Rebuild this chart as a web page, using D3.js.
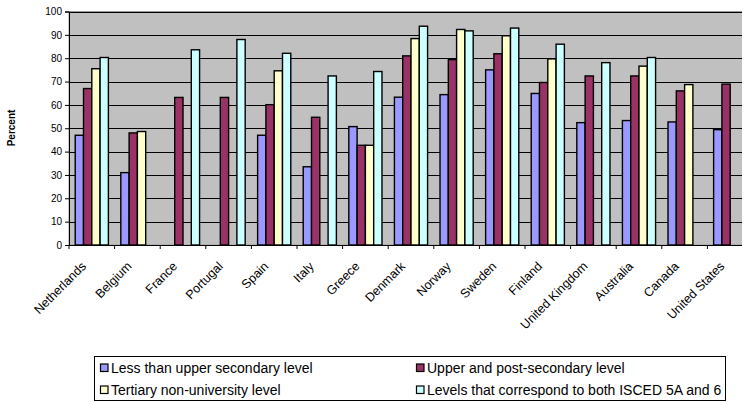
<!DOCTYPE html>
<html>
<head>
<meta charset="utf-8">
<script src="https://cdn.jsdelivr.net/npm/d3@7"></script>
<style>
  html, body { margin: 0; padding: 0; background: #fff; overflow: hidden; }
  svg { display: block; font-family: "Liberation Sans", Arial, sans-serif; }
</style>
</head>
<body>
<svg id="chart" width="742" height="402"></svg>
<script>
const categories = ["Netherlands", "Belgium", "France", "Portugal", "Spain", "Italy", "Greece", "Denmark", "Norway", "Sweden", "Finland", "United Kingdom", "Australia", "Canada", "United States"];
const seriesNames = ["Less than upper secondary level", "Upper and post-secondary level", "Tertiary non-university level", "Levels that correspond to both ISCED 5A and 6"];
const lessThanUpperSecondary = [47, 31, null, null, 47, 33.5, 50.7, 63.3, 64.4, 75, 64.9, 52.4, 53.3, 52.7, 49.4];
const upperPostSecondary = [67, 48, 63.2, 63.2, 60.1, 54.7, 42.7, 81, 79.4, 81.9, 69.6, 72.4, 72.4, 66, 68.9];
const tertiaryNonUniversity = [75.5, 48.6, null, null, 74.6, null, 42.7, 88.4, 92.3, 89.6, 79.7, null, 76.6, 68.7, null];
const isced5A6 = [80.3, null, 83.6, 88, 82.1, 72.4, 74.3, 93.7, 91.7, 92.9, 86, 78.1, 80.3, null, null];
const yTicks = [0, 10, 20, 30, 40, 50, 60, 70, 80, 90, 100];
const colors = ["#9999FF", "#993366", "#FFFFCC", "#CCFFFF"];

const allSeries = [lessThanUpperSecondary, upperPostSecondary, tertiaryNonUniversity, isced5A6];

const svg = d3.select("#chart");
const plot = { left: 69, right: 753, top: 11.5, bottom: 245 };

const x0 = d3.scaleBand().domain(categories).range([plot.left, plot.right])
  .paddingInner(1.5 / 5.5).paddingOuter(0.75 / 5.5);
const x1 = d3.scaleBand().domain(d3.range(4)).range([0, x0.bandwidth()]);
const y = d3.scaleLinear().domain([0, 100]).range([plot.bottom, plot.top]);
const step = x0.step();

// plot background
svg.append("rect")
  .attr("x", plot.left).attr("y", plot.top)
  .attr("width", plot.right - plot.left).attr("height", plot.bottom - plot.top)
  .attr("fill", "#C0C0C0").attr("stroke", "#9a9a9a").attr("stroke-width", 1);

// gridlines
svg.append("g").selectAll("line").data(yTicks.filter(d => d > 0)).join("line")
  .attr("x1", plot.left).attr("x2", plot.right)
  .attr("y1", d => Math.round(y(d)) + 0.5).attr("y2", d => Math.round(y(d)) + 0.5)
  .attr("stroke", "#000").attr("stroke-width", 1);

// bars
const groups = svg.append("g").selectAll("g").data(categories).join("g")
  .attr("transform", d => `translate(${x0(d)},0)`);
groups.selectAll("rect")
  .data((c, i) => allSeries.map((s, k) => ({ k, v: s[i] })).filter(d => d.v != null))
  .join("rect")
  .attr("x", d => x1(d.k))
  .attr("y", d => y(d.v))
  .attr("width", x1.bandwidth())
  .attr("height", d => y(0) - y(d.v))
  .attr("fill", d => colors[d.k])
  .attr("stroke", "#000").attr("stroke-width", 1.4);

// y axis
const yAxis = d3.axisLeft(y).tickValues(yTicks).tickSize(4).tickPadding(3).tickFormat(d3.format("d"));
const gy = svg.append("g").attr("transform", `translate(${plot.left},0)`).call(yAxis);
gy.select(".domain").attr("stroke", "#000");
gy.selectAll(".tick line").attr("stroke", "#000");
gy.selectAll("text").attr("font-size", 10).attr("fill", "#000").attr("font-family", "Liberation Sans, Arial, sans-serif");

// x axis
const gx = svg.append("g").attr("transform", `translate(0,${plot.bottom})`);
gx.append("line").attr("x1", plot.left).attr("x2", plot.right).attr("y1", 0.5).attr("y2", 0.5).attr("stroke", "#000");
gx.selectAll("line.tk").data(d3.range(categories.length + 1)).join("line").attr("class", "tk")
  .attr("x1", d => plot.left + d * step).attr("x2", d => plot.left + d * step)
  .attr("y1", 0).attr("y2", 4).attr("stroke", "#000");
gx.selectAll("text").data(categories).join("text")
  .attr("transform", d => `translate(${x0(d) + x0.bandwidth() / 2 - 5},${22}) rotate(-45)`)
  .attr("text-anchor", "end")
  .attr("font-size", 12.5)
  .attr("fill", "#000")
  .text(d => d);

// y label
svg.append("text")
  .attr("transform", `translate(15,128) rotate(-90)`)
  .attr("text-anchor", "middle")
  .attr("font-size", 10).attr("font-weight", "bold")
  .text("Percent");

// legend
const lg = svg.append("g");
lg.append("rect").attr("x", 94.5).attr("y", 356.5).attr("width", 631).attr("height", 44)
  .attr("fill", "#fff").attr("stroke", "#000").attr("stroke-width", 1);
const legendPos = [[100, 368.5], [416, 368.5], [100, 390.5], [416, 390.5]];
const li = lg.selectAll("g").data(seriesNames).join("g")
  .attr("transform", (d, i) => `translate(${legendPos[i][0]},${legendPos[i][1]})`);
li.append("rect").attr("x", 0.5).attr("y", -4.5).attr("width", 7.5).attr("height", 7.5)
  .attr("fill", (d, i) => colors[i]).attr("stroke", "#000").attr("stroke-width", 1.2);
li.append("text").attr("x", 11).attr("y", 4.8).attr("font-size", 14).attr("fill", "#000").text(d => d);
</script>
</body>
</html>
